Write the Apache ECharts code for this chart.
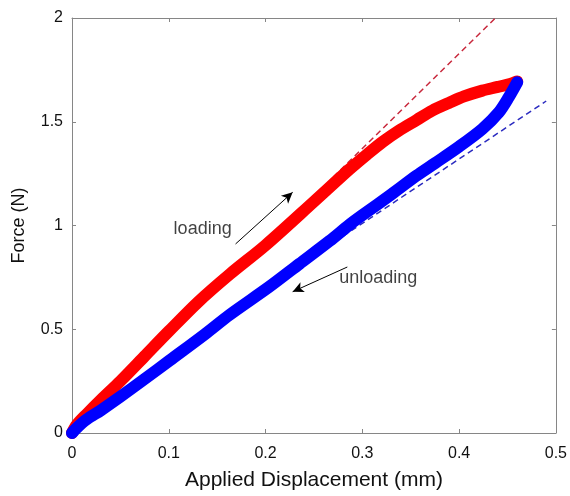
<!DOCTYPE html>
<html>
<head>
<meta charset="utf-8">
<script src="https://cdn.jsdelivr.net/npm/echarts@6/dist/echarts.min.js"></script>
<style>
html,body{margin:0;padding:0;background:#fff;}
#chart{width:570px;height:496px;}
</style>
</head>
<body>
<div id="chart"></div>
<script>
// Loading curve (red)
var loadX = [0, 0.005, 0.015, 0.03, 0.05, 0.075, 0.1, 0.13, 0.163, 0.2, 0.25, 0.287, 0.305, 0.321, 0.338, 0.356, 0.372, 0.39, 0.405, 0.424, 0.44, 0.455, 0.46];
var loadY = [0, 0.04, 0.09, 0.16, 0.25, 0.37, 0.49, 0.63, 0.765, 0.905, 1.115, 1.272, 1.343, 1.403, 1.458, 1.508, 1.553, 1.592, 1.622, 1.650, 1.668, 1.686, 1.694];
// Unloading curve (blue)
var unloadX = [0.46, 0.4515, 0.441, 0.424, 0.40, 0.375, 0.356, 0.33, 0.3, 0.287, 0.266, 0.235, 0.204, 0.163, 0.137, 0.101, 0.075, 0.05, 0.03, 0.015, 0.005, 0];
var unloadY = [1.69, 1.62, 1.545, 1.465, 1.38, 1.30, 1.24, 1.15, 1.05, 1.005, 0.925, 0.815, 0.705, 0.57, 0.475, 0.35, 0.26, 0.175, 0.11, 0.065, 0.025, 0];
// Fitted slopes (dashed)
var loadFitX = [0.27, 0.4375];
var loadFitY = [1.234, 2.0];
var unloadFitX = [0.28, 0.49];
var unloadFitY = [0.948, 1.60];
// Annotations
var arrowLoad = [[0.169, 0.911], [0.228, 1.160]];
var arrowUnload = [[0.2845, 0.80], [0.228, 0.681]];
var labelLoad = {text: 'loading', x: 0.135, y: 0.984};
var labelUnload = {text: 'unloading', x: 0.3165, y: 0.745};
// Ticks
var xMin = 0, xMax = 0.5, xStep = 0.1;
var yMin = 0, yMax = 2, yStep = 0.5;

function zip(a, b) { return a.map(function (v, i) { return [v, b[i]]; }); }

var axisGray = '#868686';
var txt = '#111111';
var font = 'Liberation Sans, Arial, sans-serif';

var chart = echarts.init(document.getElementById('chart'), null, {renderer: 'canvas'});
chart.setOption({
  animation: false,
  backgroundColor: '#fff',
  grid: {left: 72, right: 13, top: 18, bottom: 61},
  xAxis: [{
    type: 'value', min: xMin, max: xMax, interval: xStep, position: 'bottom',
    name: 'Applied Displacement (mm)', nameLocation: 'middle', nameGap: 37,
    nameTextStyle: {fontFamily: font, fontSize: 21, color: txt},
    axisLine: {show: true, onZero: false, lineStyle: {color: axisGray, width: 1}},
    axisTick: {show: true, inside: true, length: 4, lineStyle: {color: axisGray}},
    axisLabel: {fontFamily: font, fontSize: 16, color: txt, margin: 13},
    splitLine: {show: false}
  }, {
    type: 'value', min: xMin, max: xMax, interval: xStep, position: 'top',
    axisLine: {show: true, onZero: false, lineStyle: {color: axisGray, width: 1}},
    axisTick: {show: true, inside: true, length: 4, lineStyle: {color: axisGray}},
    axisLabel: {show: false}, splitLine: {show: false}
  }],
  yAxis: [{
    type: 'value', min: yMin, max: yMax, interval: yStep, position: 'left',
    name: 'Force (N)', nameLocation: 'middle', nameGap: 44, nameRotate: 90,
    nameTextStyle: {fontFamily: font, fontSize: 18, color: txt},
    axisLine: {show: true, onZero: false, lineStyle: {color: axisGray, width: 1}},
    axisTick: {show: true, inside: true, length: 4, lineStyle: {color: axisGray}},
    axisLabel: {fontFamily: font, fontSize: 16, color: txt, margin: 9},
    splitLine: {show: false}
  }, {
    type: 'value', min: yMin, max: yMax, interval: yStep, position: 'right',
    axisLine: {show: true, onZero: false, lineStyle: {color: axisGray, width: 1}},
    axisTick: {show: true, inside: true, length: 4, lineStyle: {color: axisGray}},
    axisLabel: {show: false}, splitLine: {show: false}
  }],
  series: [
    {
      type: 'line', data: zip(loadFitX, loadFitY), showSymbol: false, symbol: 'none',
      lineStyle: {color: '#c8283c', width: 1.5, type: [6, 4]}, z: 1, silent: true
    },
    {
      type: 'line', data: zip(unloadFitX, unloadFitY), showSymbol: false, symbol: 'none',
      lineStyle: {color: '#2b2bc0', width: 1.5, type: [6, 4]}, z: 1, silent: true
    },
    {
      type: 'line', data: zip(loadX, loadY), showSymbol: false, symbol: 'none', smooth: 0.3,
      lineStyle: {color: '#ff0000', width: 12, cap: 'round', join: 'round'}, z: 2, silent: true
    },
    {
      type: 'line', data: zip(unloadX, unloadY), showSymbol: false, symbol: 'none', smooth: 0.3,
      lineStyle: {color: '#0000ff', width: 12, cap: 'round', join: 'round'}, z: 3, silent: true
    },
    {
      type: 'line', data: [], silent: true, z: 4,
      markLine: {
        silent: true, animation: false,
        symbol: ['none', 'arrow'], symbolSize: [8, 11],
        label: {show: false},
        lineStyle: {color: '#000', width: 1, type: 'solid'},
        data: [
          [{coord: arrowLoad[0]}, {coord: arrowLoad[1]}],
          [{coord: arrowUnload[0]}, {coord: arrowUnload[1]}]
        ]
      }
    },
    {
      type: 'scatter', symbolSize: 0, silent: true, z: 5,
      data: [
        {value: [labelLoad.x, labelLoad.y], name: labelLoad.text},
        {value: [labelUnload.x, labelUnload.y], name: labelUnload.text}
      ],
      label: {show: true, position: 'inside', formatter: '{b}', fontFamily: font, fontSize: 18, color: txt}
    }
  ]
});
</script>
</body>
</html>
